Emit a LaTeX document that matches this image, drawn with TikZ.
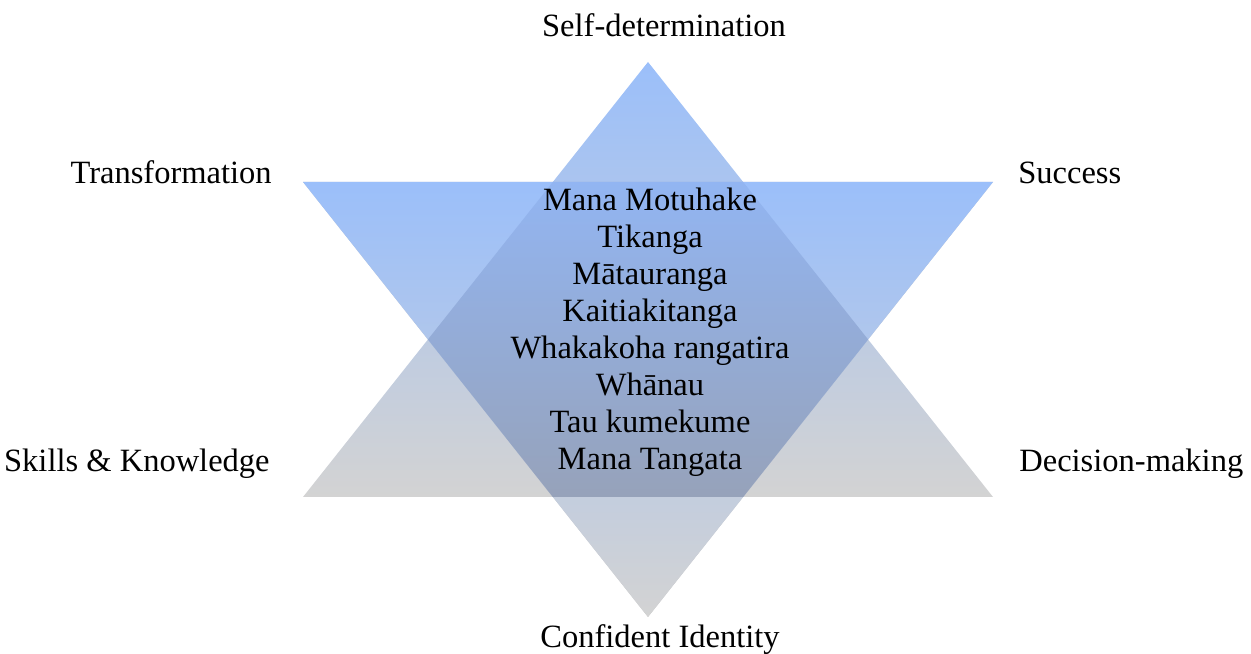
\documentclass[tikz,border=0pt]{standalone}
\usepackage{fontspec}
\setmainfont{Liberation Serif}
\definecolor{starblue}{RGB}{155,191,250}
\definecolor{stargray}{RGB}{211,211,211}
\definecolor{mixtop}{RGB}{146,181,242}
\definecolor{mixbot}{RGB}{150,162,186}

\begin{document}
\begin{tikzpicture}[
	word/.style={font=\fontsize{18.5}{21}\selectfont, inner sep=0pt},
	starshade/.style={top color=starblue, bottom color=stargray}
	]
		\useasboundingbox (0,0) rectangle (25.02,13.08);
		\coordinate (uptop) at (12.96,11.84);
		\coordinate (upright) at (19.86,3.14);
		\coordinate (upleft) at (6.06,3.14);
		\coordinate (downleft) at (6.06,9.44);
		\coordinate (downright) at (19.86,9.44);
		\coordinate (downtip) at (12.96,0.74);

		\shade [starshade] (uptop) -- (upright) -- (upleft) -- cycle; % up
		\fill [black!25, opacity=0.8, shift={(0.03,-0.08)}] (downleft) -- (downright) -- (downtip) -- cycle; % shadow
		\shade [starshade] (downleft) -- (downright) -- (downtip) -- cycle; % down

		\begin{scope}
		\clip (uptop) -- (upright) -- (upleft) -- cycle;
		\clip (downleft) -- (downright) -- (downtip) -- cycle;
		\shade [top color=mixtop, bottom color=mixbot] (6,3.14) rectangle (20,9.44);
		\end{scope}

		\node [word, anchor=base] (selfdet) at (13.28,12.34) {Self-determination};
		\node [word, anchor=base east] (transform) at (5.44,9.40) {Transformation};
		\node [word, anchor=base west] (success) at (20.36,9.40) {Success};
		\node [word, anchor=base east] (skills) at (5.40,3.64) {Skills \& Knowledge};
		\node [word, anchor=base west] (decision) at (20.38,3.64) {Decision-making};
		\node [word, anchor=base] (identity) at (13.2,0.12) {Confident Identity};

		\foreach \w [count=\i] in {Mana Motuhake, Tikanga, Mātauranga, Kaitiakitanga, Whakakoha rangatira, Whānau, Tau kumekume, Mana Tangata}
			\node [word, anchor=base] (value\i) at (13.0,{8.86-0.74*(\i-1)}) {\w};

		\end{tikzpicture}
\end{document}
